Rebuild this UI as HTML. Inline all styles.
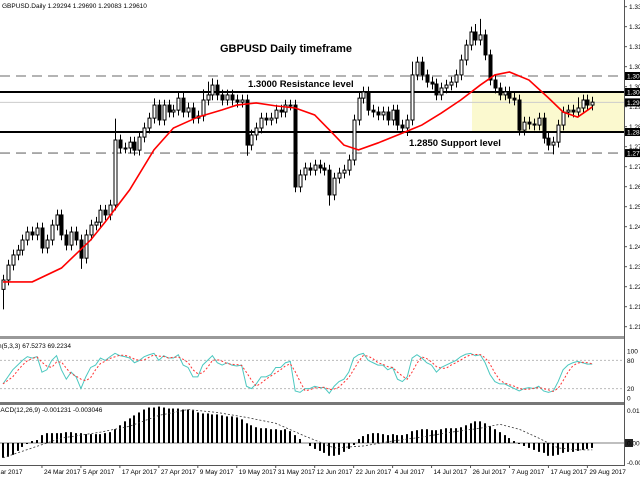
<!DOCTYPE html>
<html><head><meta charset="utf-8">
<style>
html,body{margin:0;padding:0;background:#fff;}
body{width:640px;height:480px;overflow:hidden;font-family:"Liberation Sans",sans-serif;}
svg text{font-family:"Liberation Sans",sans-serif;}
</style></head>
<body>
<svg id="chart" width="640" height="480" viewBox="0 0 640 480" xmlns="http://www.w3.org/2000/svg">
</svg>
<script>
const opens=[1.2260,1.2295,1.2351,1.2389,1.2407,1.2445,1.2475,1.2464,1.2490,1.2415,1.2445,1.2501,1.2539,1.2464,1.2426,1.2475,1.2445,1.2377,1.2464,1.2501,1.2512,1.2557,1.2539,1.2576,1.2820,1.2790,1.2790,1.2812,1.2782,1.2831,1.2865,1.2902,1.2951,1.2895,1.2951,1.2925,1.2932,1.2977,1.2925,1.2940,1.2902,1.2910,1.2970,1.2989,1.3026,1.2989,1.2970,1.2989,1.2970,1.2962,1.2970,1.2801,1.2839,1.2865,1.2902,1.2895,1.2902,1.2932,1.2925,1.2951,1.2951,1.2644,1.2689,1.2715,1.2707,1.2726,1.2715,1.2707,1.2614,1.2677,1.2696,1.2707,1.2745,1.2895,1.2977,1.3000,1.2932,1.2925,1.2914,1.2925,1.2895,1.2932,1.2876,1.2865,1.2895,1.3064,1.3112,1.3064,1.3037,1.3030,1.2989,1.3015,1.3026,1.3037,1.3064,1.3120,1.3176,1.3225,1.3195,1.3214,1.3139,1.3045,1.3015,1.2989,1.3000,1.2977,1.2970,1.2857,1.2887,1.2880,1.2876,1.2902,1.2827,1.2801,1.2812,1.2876,1.2925,1.2932,1.2925,1.2940,1.2970,1.2951];
const closes=[1.2295,1.2351,1.2389,1.2407,1.2445,1.2475,1.2464,1.2490,1.2415,1.2445,1.2501,1.2539,1.2464,1.2426,1.2475,1.2445,1.2377,1.2464,1.2501,1.2512,1.2557,1.2539,1.2576,1.2820,1.2790,1.2790,1.2812,1.2782,1.2831,1.2865,1.2902,1.2951,1.2895,1.2951,1.2925,1.2932,1.2977,1.2925,1.2940,1.2902,1.2910,1.2970,1.2989,1.3026,1.2989,1.2970,1.2989,1.2970,1.2962,1.2970,1.2801,1.2839,1.2865,1.2902,1.2895,1.2902,1.2932,1.2925,1.2951,1.2951,1.2644,1.2689,1.2715,1.2707,1.2726,1.2715,1.2707,1.2614,1.2677,1.2696,1.2707,1.2745,1.2895,1.2977,1.3000,1.2932,1.2925,1.2914,1.2925,1.2895,1.2932,1.2876,1.2865,1.2895,1.3064,1.3112,1.3064,1.3037,1.3030,1.2989,1.3015,1.3026,1.3037,1.3064,1.3120,1.3176,1.3225,1.3195,1.3214,1.3139,1.3045,1.3015,1.2989,1.3000,1.2977,1.2970,1.2857,1.2887,1.2880,1.2876,1.2902,1.2827,1.2801,1.2812,1.2876,1.2925,1.2932,1.2925,1.2940,1.2970,1.2951,1.2962];
const wickUp=[20,20,20,20,20,20,20,20,20,20,20,20,20,20,20,20,20,20,20,20,20,20,20,80,20,20,20,20,20,20,20,25,20,20,20,20,20,20,20,20,20,40,50,25,20,20,20,20,20,20,20,20,20,20,20,20,20,20,20,20,20,20,20,20,20,20,20,20,20,20,20,20,20,20,20,20,20,20,20,20,20,20,20,20,50,20,20,20,20,20,20,20,20,20,20,20,20,30,60,20,20,20,20,20,20,20,20,20,20,20,20,20,20,20,20,20,20,20,40,20,20,20];
const wickDn=[75,20,20,20,20,20,20,20,20,20,20,20,20,20,20,20,40,20,20,20,20,20,20,20,20,20,20,20,20,20,20,20,20,20,20,20,20,20,20,20,20,20,20,20,20,20,20,20,20,20,40,20,20,20,20,20,20,20,20,20,20,20,20,20,20,20,20,40,20,20,20,20,20,20,20,20,20,20,20,20,20,20,20,30,20,20,20,20,20,20,20,20,20,20,20,20,20,20,20,20,20,20,20,20,20,20,20,20,20,20,20,20,20,35,20,20,20,20,20,20,20,20];
const maIdx=[0,6,12,18,21,26,31,35,40,45,48,52,56,60,64,67,70,73,77,82,86,90,94,98,101,104,108,112,115,118,121];
const maVal=[1.2288,1.2288,1.2340,1.2445,1.2513,1.2633,1.2783,1.2865,1.2906,1.2933,1.2951,1.2959,1.2948,1.2940,1.2914,1.2858,1.2801,1.2783,1.2809,1.2846,1.2876,1.2921,1.2970,1.3026,1.3064,1.3075,1.3045,1.2978,1.2925,1.2906,1.2944];
const stochK=[30,45,60,70,80,88,85,88,55,60,80,90,60,40,55,45,20,45,65,70,85,80,88,95,90,88,85,75,80,88,92,95,80,90,85,85,92,70,65,45,45,70,80,90,75,70,75,70,68,70,25,20,30,45,45,50,65,65,75,78,15,12,20,20,25,22,22,10,25,35,40,55,85,92,95,80,75,70,70,60,65,40,35,45,85,92,85,75,70,55,65,70,75,80,88,93,95,90,92,75,50,35,30,30,25,20,15,20,22,20,25,15,12,15,35,60,70,75,78,75,72,72];
const macdHist=[-60,-56,-48,-32,-16,-4,8,12,32,40,40,40,40,44,44,40,40,36,36,36,36,40,44,56,72,88,100,112,124,136,144,144,148,144,140,140,140,136,136,132,124,120,120,116,116,112,108,108,104,96,80,72,64,60,60,56,56,52,56,48,32,16,0,-12,-24,-32,-40,-52,-52,-48,-36,-24,-8,16,28,36,40,40,36,32,36,32,32,36,48,52,56,56,52,52,56,60,60,60,64,72,80,88,88,80,68,56,44,32,20,8,-4,-12,-20,-28,-36,-40,-52,-52,-48,-40,-36,-36,-32,-28,-24,-20];
const sigIdx=[0,12,20,26,32,38,44,50,56,62,68,74,80,86,92,98,102,106,110,114,118,121];
const sigVal=[-60,20,44,68,112,136,124,104,80,28,-20,-12,8,24,44,60,76,56,20,-20,-28,-28];
const priceTicks=["1.3320","1.3245","1.3170","1.3095","1.3020","1.2945","1.2870","1.2795","1.2720","1.2645","1.2570","1.2495","1.2420","1.2345","1.2270","1.2195","1.2120"];
const levelVals=[1.3060,1.3000,1.2850,1.2771];
const levelStyle=["dash","solid","solid","dash"];
const currentPrice=1.2961;
const dateLabels=["24 Mar 2017","5 Apr 2017","17 Apr 2017","27 Apr 2017","9 May 2017","19 May 2017","31 May 2017","12 Jun 2017","22 Jun 2017","4 Jul 2017","14 Jul 2017","26 Jul 2017","7 Aug 2017","17 Aug 2017","29 Aug 2017"];
const dateIdx=[8,16,24,32,40,48,56,64,72,80,88,96,104,112,120];

const svg=document.getElementById('chart');
const NS='http://www.w3.org/2000/svg';
const X=i=>3+i*4.87;
const Y=p=>92+(1.3-p)*2667;
const SY=v=>398-v*0.47;
const MY=v=>443-v*0.2462;
function mk(tag,attrs,parent){const e=document.createElementNS(NS,tag);for(const k in attrs)e.setAttribute(k,attrs[k]);(parent||svg).appendChild(e);return e;}
function txt(s,x,y,size,attrs,parent){const t=mk('text',Object.assign({x:x,y:y,'font-size':size,fill:'#000'},attrs||{}),parent);t.textContent=s;return t;}

const sep1=mk('rect',{x:0,y:336,width:624,height:3,fill:'#999'});


const sep2=mk('rect',{x:0,y:402,width:624,height:3,fill:'#777'});



const zone=mk('rect',{x:472,y:Y(1.3),width:152,height:Y(1.285)-Y(1.3),fill:'#fbf9cf'});


const cp=mk('line',{x1:0,x2:624,y1:Y(currentPrice),y2:Y(currentPrice),stroke:'#ccc','stroke-width':1});


levelVals.forEach((v,k)=>{
  const l=mk('line',{x1:0,x2:624,y1:Y(v),y2:Y(v),stroke:levelStyle[k]=='dash'?'#888':'#000','stroke-width':levelStyle[k]=='dash'?1.3:2});
  if(levelStyle[k]=='dash')l.setAttribute('stroke-dasharray','10,6');
  
  
});
const cg=mk('g',{});


closes.forEach((c,i)=>{
  const o=opens[i],hi=Math.max(o,c)+wickUp[i]/10000,lo=Math.min(o,c)-wickDn[i]/10000;
  const x=Math.round(X(i))+0.5;
  const w=mk('line',{x1:x,x2:x,y1:Y(hi),y2:Y(lo),stroke:'#000','stroke-width':1},cg);
  
  
  const top=Y(Math.max(o,c)),bot=Y(Math.min(o,c));
  const b=mk('rect',{x:x-1.5,y:top,width:3,height:Math.max(bot-top,1),fill:c>=o?'#fff':'#000',stroke:'#000','stroke-width':1},cg);
  
  
});
const ma=mk('polyline',{points:maIdx.map((i,k)=>X(i)+','+Y(maVal[k])).join(' '),fill:'none',stroke:'#f00','stroke-width':1.6});



const h=txt('GBPUSD.Daily  1.29294 1.29690 1.29083 1.29610',2,8,6.5);


const t1=txt('GBPUSD Daily timeframe',220,52,11,{'font-weight':'bold'});


const t2=txt('1.3000 Resistance level',248,87,9.5,{'font-weight':'bold'});


const t3=txt('1.2850 Support level',409,146,9.5,{'font-weight':'bold'});



[80,20].forEach(v=>{const l=mk('line',{x1:0,x2:624,y1:SY(v),y2:SY(v),stroke:'#bbb','stroke-dasharray':'2,2'});

});
const kLine=mk('polyline',{points:stochK.map((v,i)=>X(i)+','+SY(v)).join(' '),fill:'none',stroke:'#4cc8c0','stroke-width':1});


const dVals=stochK.map((v,i)=>{const a=stochK.slice(Math.max(0,i-2),i+1);return a.reduce((s,x)=>s+x,0)/a.length;});
const dLine=mk('polyline',{points:dVals.map((v,i)=>X(i)+','+SY(v)).join(' '),fill:'none',stroke:'#f33','stroke-width':1,'stroke-dasharray':'2,2'});


const st=txt('Stoch(5,3,3) 67.5273 69.2234',-15,348,6.5);



const z=mk('line',{x1:0,x2:624,y1:MY(0),y2:MY(0),stroke:'#aaa','stroke-width':1.5});


macdHist.forEach((v,i)=>{const y0=MY(0),y1=MY(v);
const b=mk('rect',{x:Math.round(X(i))-1,y:Math.min(y0,y1),width:2,height:Math.abs(y1-y0),fill:'#000'});

});
const sg=mk('polyline',{points:sigIdx.map((i,k)=>X(i)+','+MY(sigVal[k])).join(' '),fill:'none',stroke:'#333','stroke-width':0.8,'stroke-dasharray':'2,2'});


const ml=txt('MACD(12,26,9) -0.001231 -0.003046',-5,412,6.5);



const ax=mk('line',{x1:624.5,x2:624.5,y1:0,y2:465,stroke:'#555','stroke-width':1});


const bx=mk('line',{x1:0,x2:625,y1:465.5,y2:465.5,stroke:'#555','stroke-width':1});


priceTicks.forEach(s=>{const y=Y(parseFloat(s));if(y>336)return;
mk('line',{x1:624,x2:627,y1:y,y2:y,stroke:'#555'});
const t=txt(s,629,y+2.5,6.5);

});
levelVals.concat([currentPrice]).forEach(v=>{const y=Y(v);
const r=mk('rect',{x:625,y:y-4,width:15,height:8,fill:'#000'});


const t=txt(v.toFixed(4),627,y+2.5,6.5,{fill:'#fff'});

});
[[100,'100'],[80,'80'],[20,'20'],[0,'0']].forEach(a=>{const t=txt(a[1],627,SY(a[0])+2.5,6.5);

});
const m1=txt('0.013',627,413,6.5);


const mr=mk('rect',{x:625,y:439,width:8,height:8,fill:'#222'});


const m2=txt('0.00',627,445.5,6.5);


const m3=txt('-0.008',627,465,6.5);



const d0=txt('13 Mar 2017',-14,474,6.5);


dateLabels.forEach((s,k)=>{const x=X(dateIdx[k]);
mk('line',{x1:x,x2:x,y1:465,y2:468,stroke:'#555'});
const t=txt(s,x+2,474,6.5);

});
</script>
</body></html>
